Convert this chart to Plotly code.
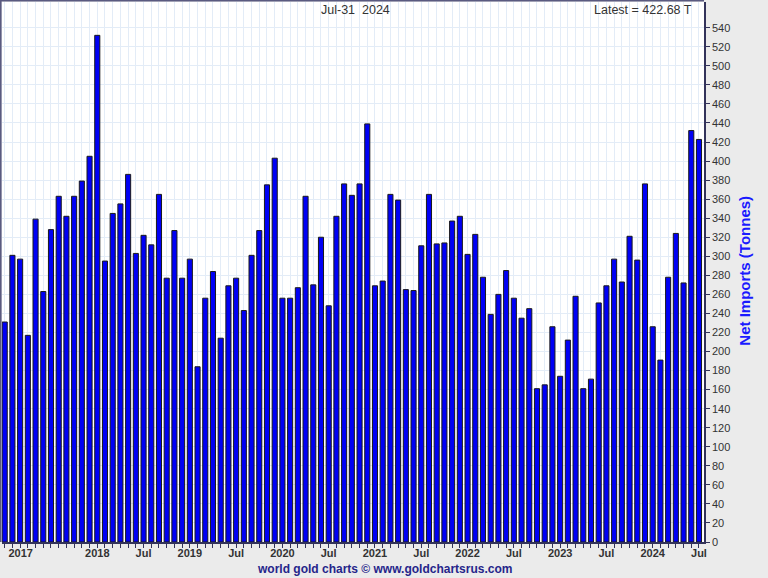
import plotly.graph_objects as go

# ---- data ----
months = [f"{y}-{m:02d}" for y in range(2017, 2025) for m in range(1, 13)][:91]
net_imports = [
    231, 301, 297, 217, 339, 263, 328, 363, 342, 363, 379, 405,   # 2017
    532, 295, 345, 355, 386, 303, 322, 312, 365, 277, 327, 277,   # 2018
    297, 184, 256, 284, 214, 269, 277, 243, 301, 327, 375, 403,   # 2019
    256, 256, 267, 363, 270, 320, 248, 342, 376, 364, 376, 439,   # 2020
    269, 274, 365, 359, 265, 264, 311, 365, 313, 314, 337, 342,   # 2021
    302, 323, 278, 239, 260, 285, 256, 235, 245, 161, 165, 226,   # 2022
    174, 212, 258, 161, 171, 251, 269, 297, 273, 321, 296, 376,   # 2023
    226, 191, 278, 324, 272, 432, 422.68,                          # 2024
]
tick_labels = ["2017", "2018", "Jul", "2019", "Jul", "2020", "Jul", "2021", "Jul",
               "2022", "Jul", "2023", "Jul", "2024", "Jul"]
tick_months = ["2017-03", "2018-01", "2018-07", "2019-01", "2019-07", "2020-01", "2020-07",
               "2021-01", "2021-07", "2022-01", "2022-07", "2023-01", "2023-07",
               "2024-01", "2024-07"]
y_ticks = list(range(0, 541, 20))
date_label = "Jul-31  2024"
latest_label = f"Latest = {net_imports[-1]:.2f} T"

FONT = "Liberation Sans"

x_idx = list(range(len(months)))
tick_pos = [months.index(m) for m in tick_months]
tick_pos[0] = 2.07  # first label nudged inside plot like the original

fig = go.Figure()
fig.add_trace(go.Bar(
    x=x_idx, y=net_imports, width=0.66,
    marker=dict(color="#0000f5", line=dict(color="#1a1a1a", width=1)),
    hovertext=months, showlegend=False,
))

fig.update_layout(
    width=768, height=578,
    margin=dict(l=2, r=64, t=2, b=36, autoexpand=False),
    paper_bgcolor="#ebebeb", plot_bgcolor="white",
    font=dict(family=FONT, size=11, color="#333333"),
    xaxis=dict(
        range=[-0.35, 90.65], automargin=False,
        tickvals=tick_pos, ticktext=tick_labels,
        ticks="", showgrid=False,
        tickfont=dict(family=FONT, size=11, color="#333333", weight="bold"),
        showline=True, linecolor="#33335a", linewidth=1.5,
        minor=dict(tickvals=x_idx, ticks="outside", ticklen=4, tickcolor="#33335a",
                   showgrid=True, gridcolor="#e3ecf7", gridwidth=1),
        zeroline=False, fixedrange=True,
    ),
    yaxis=dict(
        side="right", range=[0, 567], automargin=False,
        tickvals=y_ticks, ticks="outside", ticklen=4, tickcolor="#33335a",
        showline=True, linecolor="#33335a", linewidth=1.5,
        gridcolor="#e3ecf7", gridwidth=1,
        tickfont=dict(family=FONT, size=11, color="#333333"),
        zeroline=False, fixedrange=True,
    ),
    annotations=[
        dict(text=date_label, xref="paper", yref="paper", x=0.503, y=0.986,
             xanchor="center", yanchor="middle", showarrow=False,
             font=dict(family=FONT, size=12.5, color="#333333")),
        dict(text=latest_label, xref="paper", yref="paper", x=0.986, y=0.986,
             xanchor="right", yanchor="middle", showarrow=False,
             font=dict(family=FONT, size=12.5, color="#333333")),
        dict(text="<b>Net Imports (Tonnes)</b>", xref="paper", yref="paper",
             x=1.058, y=0.502, xanchor="center", yanchor="middle", textangle=-90,
             showarrow=False,
             font=dict(family=FONT, size=15, color="#1a1aff")),
        dict(text="<b>world gold charts © www.goldchartsrus.com</b>", xref="paper", yref="paper",
             x=0.545, y=-0.05, xanchor="center", yanchor="middle", showarrow=False,
             font=dict(family=FONT, size=12, color="#25258a")),
    ],
    shapes=[
        dict(type="line", xref="paper", yref="paper", x0=-0.002, x1=-0.002, y0=0, y1=1.004,
             line=dict(color="#5a5a80", width=2)),
        dict(type="line", xref="paper", yref="paper", x0=-0.003, x1=1.0, y0=1.003, y1=1.003,
             line=dict(color="#5a5a80", width=2)),
    ],
)

fig.write_html("out.html", config={"displayModeBar": False},
               post_script="document.body.style.margin='0';document.body.style.padding='0';")
